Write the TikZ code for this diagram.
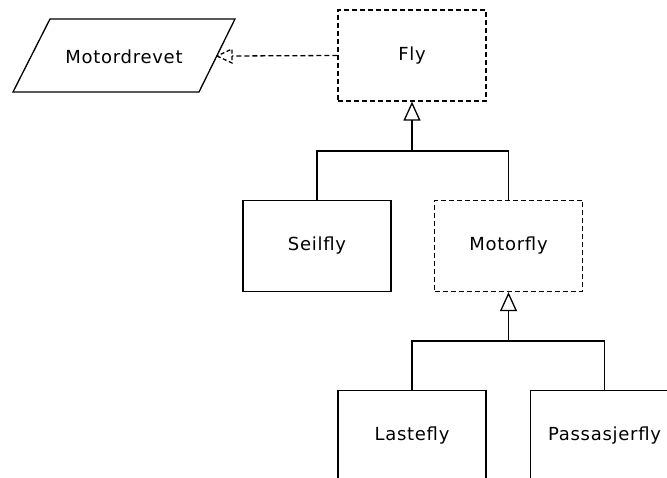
\documentclass[tikz,border=0pt]{standalone}
\usepackage{fontspec}
\setmainfont{DejaVu Sans}[LetterSpace=4]
\usetikzlibrary{arrows.meta}
\begin{document}
\begin{tikzpicture}[x=1pt,y=-1pt,
  font=\fontsize{18}{22}\selectfont,
  line width=1.3pt,
  cls/.style={draw, rectangle, minimum width=148pt, minimum height=91pt, inner sep=0pt},
  abstr/.style={cls, dash pattern=on 5pt off 3pt},
  gen/.style={-{Triangle[open, length=19pt, width=17pt, line width=1.3pt]}}]
\useasboundingbox (0,0) rectangle (667,478);
% interface (parallelogram)
\draw (50,19) -- (235,19) -- (199,92) -- (13,92) -- cycle;
\node (motordrevet) at (124,57) {Motordrevet};
\coordinate (realtip) at (217,56);
\coordinate (realbase) at (232,56);
% classes
\node[abstr] (fly) at (412,55.5) {Fly};
\node[cls] (seil) at (317,246) {Seilfly};
\node[abstr] (motor) at (508.5,246) {Motorfly};
\node[cls] (laste) at (412,436) {Lastefly};
\node[cls] (passasjer) at (604.5,436) {Passasjerfly};
% realization
\draw[dash pattern=on 5pt off 3pt] (fly.west) -- (realbase);
\draw[dash pattern=on 4pt off 2.5pt, line join=miter] (realtip) -- ([yshift=-7pt]realbase) -- ([yshift=7pt]realbase) -- cycle;
% generalization 1
\coordinate (hub1) at (412,151);
\draw[gen] (hub1) -- (fly.south);
\draw (seil.north) |- (hub1) -| (motor.north);
% generalization 2
\coordinate (hub2) at (508.5,341);
\draw[gen] (hub2) -- (motor.south);
\draw (laste.north) |- (hub2) -| (passasjer.north);
\end{tikzpicture}
\end{document}
